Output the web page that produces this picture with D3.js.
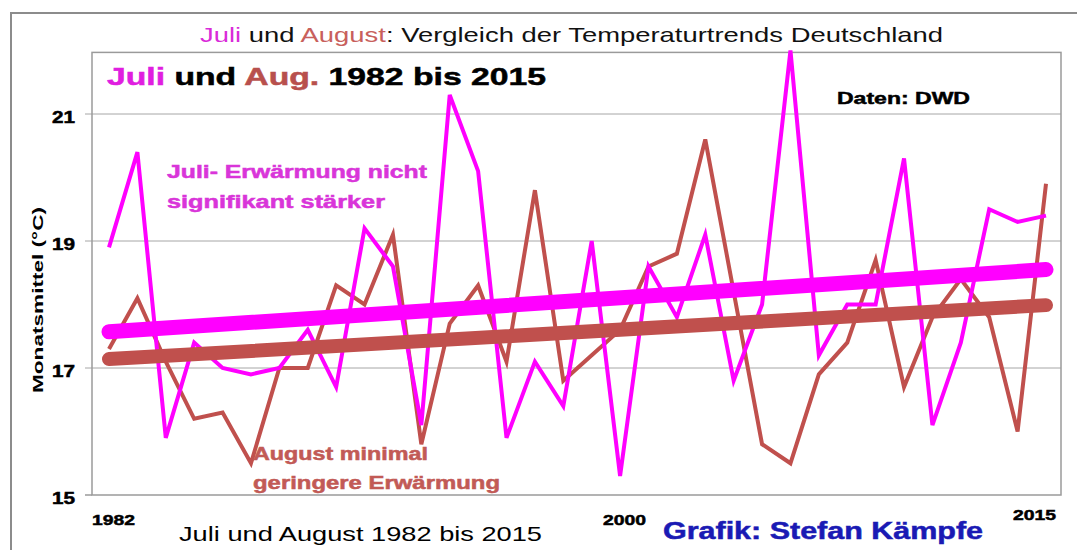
<!DOCTYPE html>
<html>
<head>
<meta charset="utf-8">
<script src="https://cdn.jsdelivr.net/npm/d3@7"></script>
<style>
body { margin: 0; background: #fff; }
text { font-family: "Liberation Sans", Arial, sans-serif; }
</style>
</head>
<body>
<div id="chart"></div>
<script>
// Juli / August Monatsmittel Deutschland (DWD)
const years = [1982, 1983, 1984, 1985, 1986, 1987, 1988, 1989, 1990, 1991, 1992, 1993, 1994, 1995, 1996, 1997, 1998,
               1999, 2000, 2001, 2002, 2003, 2004, 2005, 2006, 2007, 2008, 2009, 2010, 2011, 2012, 2013, 2014, 2015];
const julyTemps = [18.9, 20.4, 15.9, 17.4, 17.0, 16.9, 17.0, 17.6, 16.7, 19.2, 18.6, 16.1, 21.3, 20.1, 15.9, 17.1, 16.4,
                   19.0, 15.3, 18.6, 17.8, 19.1, 16.8, 18.0, 22.0, 17.2, 18.0, 18.0, 20.3, 16.1, 17.4, 19.5, 19.3, 19.4];
const augTemps = [17.3, 18.1, 17.1, 16.2, 16.3, 15.5, 17.0, 17.0, 18.3, 18.0, 19.1, 15.8, 17.7, 18.3, 17.1, 19.8, 16.8,
                  17.2, 17.6, 18.6, 18.8, 20.6, 18.2, 15.8, 15.5, 16.9, 17.4, 18.7, 16.7, 17.8, 18.4, 17.8, 16.0, 19.9];
// linear trend, start and end value
const julyTrend = [17.57, 18.55];
const augTrend = [17.14, 17.99];
const yTicks = [15, 17, 19, 21];
const xLabels = [1982, 2000, 2015];

const pink = "#ff00ff";
const brown = "#c0504d";

// the original graphic is stretched sideways, so texts get a fixed length
function addText(svg, x, y, str, size, bold, fill, len) {
    const t = svg.append("text")
        .attr("x", x).attr("y", y)
        .attr("font-size", size)
        .attr("font-weight", bold ? "bold" : "normal")
        .attr("fill", fill || "#000")
        .text(str);
    if (bold) t.attr("stroke", fill || "#000").attr("stroke-width", 0.5);
    if (len) t.attr("textLength", len).attr("lengthAdjust", "spacingAndGlyphs");
    return t;
}

function drawChart() {
    const svg = d3.select("#chart").append("svg")
        .attr("width", 1077)
        .attr("height", 550);

    const x = d3.scaleLinear().domain([1982, 2015]).range([109, 1046]);
    const y = d3.scaleLinear().domain([15, 21]).range([495, 114]);
    const left = 92, right = 1061, top = y(21.97), bottom = y(15);

    // outer frame
    svg.append("rect")
        .attr("x", 11).attr("y", 13)
        .attr("width", 1100).attr("height", 600)
        .attr("fill", "none")
        .attr("stroke", "#8c8c8c")
        .attr("stroke-width", 2);

    // grid lines (with small tick overhang on the left)
    svg.selectAll(".grid")
        .data(yTicks.filter(d => d > 15))
        .enter()
        .append("line")
        .attr("class", "grid")
        .attr("x1", 85)
        .attr("x2", right)
        .attr("y1", d => y(d))
        .attr("y2", d => y(d))
        .attr("stroke", "#a6a6a6")
        .attr("stroke-width", 1);

    // plot frame
    svg.append("rect")
        .attr("x", left).attr("y", top)
        .attr("width", right - left).attr("height", bottom - top)
        .attr("fill", "none")
        .attr("stroke", "#9a9a9a")
        .attr("stroke-width", 1.5);
    svg.append("line")
        .attr("x1", 85).attr("x2", left)
        .attr("y1", bottom).attr("y2", bottom)
        .attr("stroke", "#9a9a9a").attr("stroke-width", 1.5);

    // y labels
    yTicks.forEach(d => addText(svg, 52, y(d) + 9, d, 16, true, "#000", 23));

    svg.append("text")
        .attr("transform", "translate(43,300) rotate(-90)")
        .attr("text-anchor", "middle")
        .attr("font-size", 14)
        .attr("font-weight", "bold")
        .attr("textLength", 186)
        .attr("lengthAdjust", "spacingAndGlyphs")
        .text("Monatsmittel (°C)");

    // x labels
    xLabels.forEach((d, i) => {
        const last = i === xLabels.length - 1;
        addText(svg, last ? x(d) - 33 : x(d) - 17, last ? 520 : 525, d, 15, true, "#000", 43);
    });

    // data lines
    const line = d3.line()
        .x((d, i) => x(years[i]))
        .y(d => y(d));

    svg.append("path")
        .datum(augTemps)
        .attr("d", line)
        .attr("fill", "none")
        .attr("stroke", brown)
        .attr("stroke-width", 4);

    svg.append("path")
        .datum(julyTemps)
        .attr("d", line)
        .attr("fill", "none")
        .attr("stroke", pink)
        .attr("stroke-width", 4);

    // trend lines
    const ends = [years[0], years[years.length - 1]];
    [[augTrend, brown, 14], [julyTrend, pink, 15]].forEach(([t, c, w]) => {
        svg.append("line")
            .attr("x1", x(ends[0])).attr("y1", y(t[0]))
            .attr("x2", x(ends[1])).attr("y2", y(t[1]))
            .attr("stroke", c)
            .attr("stroke-width", w)
            .attr("stroke-linecap", "round");
    });

    // titles
    const title = addText(svg, 200, 42, null, 21, false, "#111", 743);
    title.append("tspan").attr("fill", "#d92bd9").text("Juli");
    title.append("tspan").text(" und ");
    title.append("tspan").attr("fill", "#c8605c").text("August");
    title.append("tspan").text(": Vergleich der Temperaturtrends Deutschland");

    const sub = addText(svg, 107, 85, null, 24, true, "#000", 439);
    sub.append("tspan").attr("fill", "#e01ee0").attr("stroke", "#e01ee0").text("Juli");
    sub.append("tspan").text(" und ");
    sub.append("tspan").attr("fill", "#b8504d").attr("stroke", "#b8504d").text("Aug.");
    sub.append("tspan").text(" 1982 bis 2015");

    addText(svg, 837, 104, "Daten: DWD", 17, true, "#000", 133);

    addText(svg, 167, 178, "Juli- Erwärmung nicht", 18, true, "#d935d9", 260);
    addText(svg, 167, 208, "signifikant stärker", 18, true, "#d935d9", 218);
    addText(svg, 253, 460, "August minimal", 18, true, "#c25a56", 175);
    addText(svg, 253, 489, "geringere Erwärmung", 18, true, "#c25a56", 247);

    addText(svg, 179, 541, "Juli und August 1982 bis 2015", 21, false, "#000", 363);
    addText(svg, 663, 539, "Grafik: Stefan Kämpfe", 23, true, "#1a1ab4", 320);
}

window.onload = () => {
    drawChart();
};
</script>
</body>
</html>
